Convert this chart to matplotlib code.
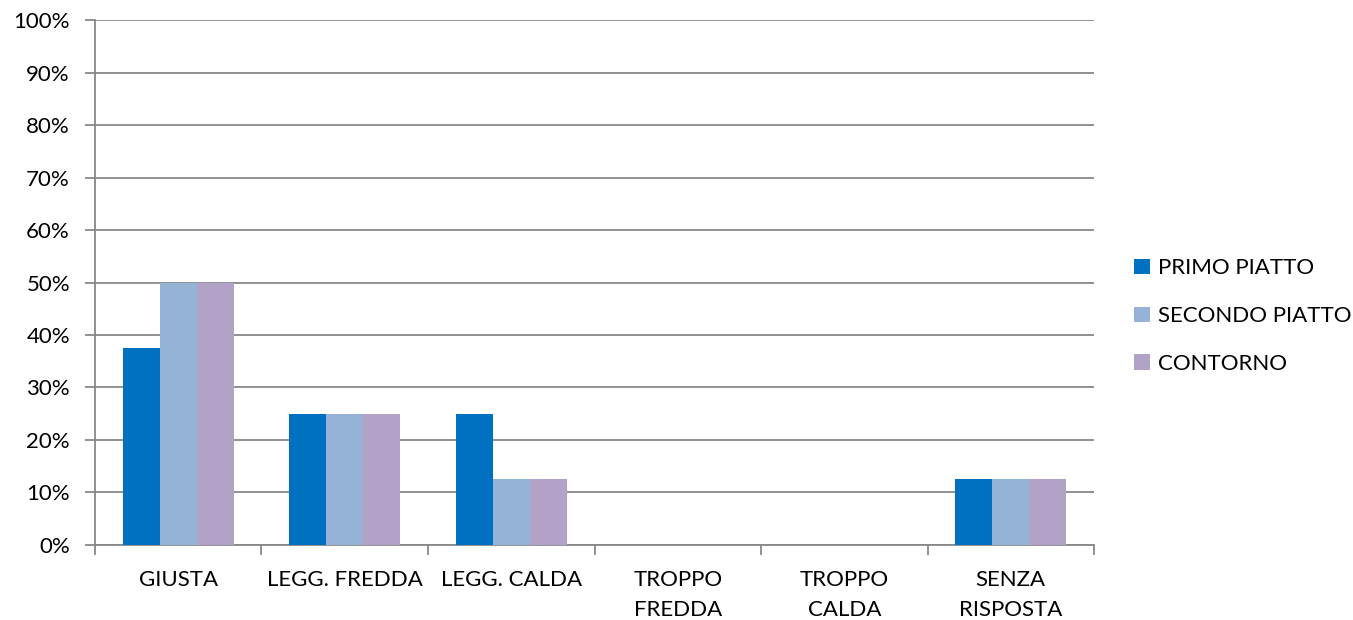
import numpy as np
import matplotlib.pyplot as plt
from matplotlib.ticker import FuncFormatter

plt.rcParams['font.family'] = ['Lato', 'DejaVu Sans']

categories = ['GIUSTA', 'LEGG. FREDDA', 'LEGG. CALDA',
              'TROPPO\nFREDDA', 'TROPPO\nCALDA', 'SENZA\nRISPOSTA']
series_names = ['PRIMO PIATTO', 'SECONDO PIATTO', 'CONTORNO']
primo = [37.5, 25, 25, 0, 0, 12.5]
secondo = [50, 25, 12.5, 0, 0, 12.5]
contorno = [50, 25, 12.5, 0, 0, 12.5]
colors = ['#0070C0', '#95B3D7', '#B3A2C7']

fig = plt.figure(figsize=(13.53, 6.2), dpi=100)
ax = fig.add_axes([0.0702, 0.121, 0.7384, 0.8467])

x = np.arange(len(categories))
w = 0.222
for i, (vals, name) in enumerate(zip([primo, secondo, contorno], series_names)):
    ax.bar(x + (i - 1) * w, vals, width=w, color=colors[i], label=name, zorder=3)

ax.set_xlim(-0.5, len(categories) - 0.5)
ax.set_ylim(0, 100)
ax.set_yticks(np.arange(0, 101, 10))
ax.yaxis.set_major_formatter(FuncFormatter(lambda v, p: f'{int(v)}%'))
ax.yaxis.grid(True, color='#888888', linewidth=1.3, zorder=0)

ax.set_xticks(x)
ax.set_xticklabels(categories, linespacing=1.6)
ax.set_xticks(np.arange(-0.5, len(categories)), minor=True)
ax.tick_params(axis='x', which='major', length=0, pad=18, labelsize=16)
ax.tick_params(axis='x', which='minor', length=7, width=1.3, color='#888888')
ax.tick_params(axis='y', length=7, width=1.3, color='#888888', labelsize=16, pad=11)

for s in ['top', 'right']:
    ax.spines[s].set_visible(False)
for s in ['left', 'bottom']:
    ax.spines[s].set_color('#888888')
    ax.spines[s].set_linewidth(1.3)

ax.legend(loc='center left', bbox_to_anchor=(1.02, 0.436), frameon=False,
          fontsize=16, handlelength=0.7, handleheight=0.7,
          handletextpad=0.4, labelspacing=1.25)

fig.savefig('out.png', dpi=100)
